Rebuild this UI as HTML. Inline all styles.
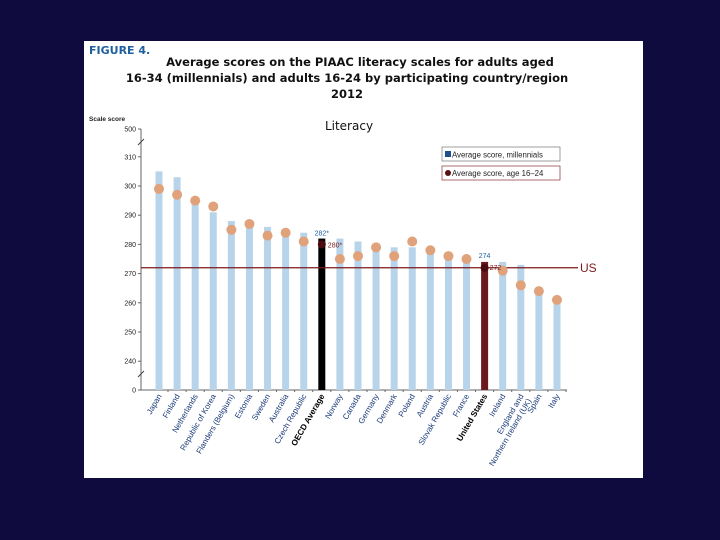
<!DOCTYPE html>
<html><head><meta charset="utf-8">
<style>
html,body{margin:0;padding:0;background:#0f0b3e;}
body{width:720px;height:540px;overflow:hidden;position:relative;font-family:"Liberation Sans",sans-serif;}
#panel{position:absolute;left:84px;top:41px;width:559px;height:437px;background:#fff;}
</style></head>
<body>
<div id="panel"></div>
<svg id="chart" width="720" height="540" style="position:absolute;left:0;top:0">
<text x="89" y="54" font-size="11" font-weight="bold" fill="#1f5fa0" font-family="DejaVu Sans, sans-serif">FIGURE 4.</text>
<g font-size="11.5" font-weight="bold" fill="#111" text-anchor="middle" font-family="DejaVu Sans, sans-serif">
<text x="360" y="66">Average scores on the PIAAC literacy scales for adults aged</text>
<text x="347" y="82">16-34 (millennials) and adults 16-24 by participating country/region</text>
<text x="347" y="98">2012</text>
</g>
<text x="349" y="130" font-size="12" fill="#111" text-anchor="middle" font-family="DejaVu Sans, sans-serif">Literacy</text>
<text x="89" y="121" font-size="6.5" font-weight="bold" fill="#222">Scale score</text>
<g>
<rect x="442" y="147" width="118" height="14" fill="#fff" stroke="#777" stroke-width="0.7"/>
<rect x="445" y="151" width="6" height="6" fill="#1f4f8f"/>
<text x="452" y="157.5" font-size="7.8" fill="#222">Average score, millennials</text>
<rect x="442" y="166" width="118" height="14" fill="#fff" stroke="#8a3030" stroke-width="0.7"/>
<circle cx="448" cy="173" r="3" fill="#5a1010"/>
<text x="452" y="176" font-size="7.8" fill="#222">Average score, age 16–24</text>
</g>
<g id="plot"></g>
</svg>
<script>
const countries=["Japan","Finland","Netherlands","Republic of Korea","Flanders (Belgium)","Estonia","Sweden","Australia","Czech Republic","OECD Average","Norway","Canada","Germany","Denmark","Poland","Austria","Slovak Republic","France","United States","Ireland","England and|Northern Ireland (UK)","Spain","Italy"];
const millennials=[305,303,295,291,288,286,286,285,284,282,282,281,280,279,279,278,277,276,274,274,273,265,261];
const age1624=[299,297,295,293,285,287,283,284,281,280,275,276,279,276,281,278,276,275,272,271,266,264,261];
const yTicks=[0,240,250,260,270,280,290,300,310,500];
const usLine=272;

const NS="http://www.w3.org/2000/svg";
const plot=document.getElementById('plot');
function mk(t,a){const e=document.createElementNS(NS,t);for(const k in a)e.setAttribute(k,a[k]);plot.appendChild(e);return e;}
const x0=141,xEnd=567,base=390;
function y(v){if(v<=0)return base;if(v>=500)return 129;return 186+(300-v)*2.92;}
function x(i){return 159+i*18.09;}

let ax=mk('line',{x1:x0,y1:129,x2:x0,y2:base,stroke:'#666','stroke-width':1});

let bx=mk('line',{x1:x0,y1:base,x2:xEnd,y2:base,stroke:'#666','stroke-width':1});

[142,374].forEach(by=>{mk('line',{x1:x0-3,y1:by+3,x2:x0+3,y2:by-3,stroke:'#444','stroke-width':1});});
yTicks.forEach(v=>{
  mk('line',{x1:x0-3,y1:y(v),x2:x0,y2:y(v),stroke:'#666'});
  const t=mk('text',{x:x0-5,y:y(v)+2.5,'font-size':7,'text-anchor':'end',fill:'#222'});
  t.textContent=v;
  
});
millennials.forEach((v,i)=>{
  const c=countries[i];
  let col='#b8d4ea',w=7;
  if(c==="OECD Average"){col='#000';}
  if(c==="United States"){col='#6b1a20';}
  const b=mk('rect',{x:x(i)-w/2,y:y(v),width:w,height:base-y(v),fill:col});
  
  
  mk('line',{x1:x(i)+9,y1:base,x2:x(i)+9,y2:base+2,stroke:'#666'});
});
let ul=mk('line',{x1:x0,y1:y(usLine),x2:578,y2:y(usLine),stroke:'#7a1a1a','stroke-width':1.3});

let ut=mk('text',{x:580,y:y(usLine)+4,'font-size':12,fill:'#7a1a1a'});ut.textContent='US';

age1624.forEach((v,i)=>{
  const c=countries[i];
  const dark=(c==="OECD Average"||c==="United States");
  const d=mk('circle',{cx:x(i),cy:y(v),r:dark?4:5,fill:dark?'#4a0a10':'#e0a27a'});
  
  
});
function lbl(i,txt,dx,dy,col,anchor){const t=mk('text',{x:x(i)+dx,y:dy,'font-size':7,fill:col,'text-anchor':anchor});t.textContent=txt;}
const oi=countries.indexOf("OECD Average"),ui=countries.indexOf("United States");
lbl(oi,millennials[oi]+'*',0,y(millennials[oi])-3,'#1f5fa0','middle');
lbl(oi,age1624[oi]+'*',6,y(age1624[oi])+3,'#7a1a1a','start');
lbl(ui,millennials[ui],0,y(millennials[ui])-4,'#1f5fa0','middle');
lbl(ui,age1624[ui],5,y(age1624[ui])+2,'#7a1a1a','start');
countries.forEach((c,i)=>{
  const bold=(c==="OECD Average"||c==="United States");
  const parts=c.split('|');
  const t=mk('text',{transform:`translate(${x(i)+3},${base+6}) rotate(-60)`,'font-size':bold?8.3:8,'font-weight':bold?'bold':'normal',fill:bold?'#000':'#1a3a7a','text-anchor':'end'});
  parts.forEach((p,k)=>{const s=document.createElementNS(NS,'tspan');s.setAttribute('x',0);s.setAttribute('dy',k===0?0:9);s.textContent=p;t.appendChild(s);});
  
});
</script>
</body></html>
